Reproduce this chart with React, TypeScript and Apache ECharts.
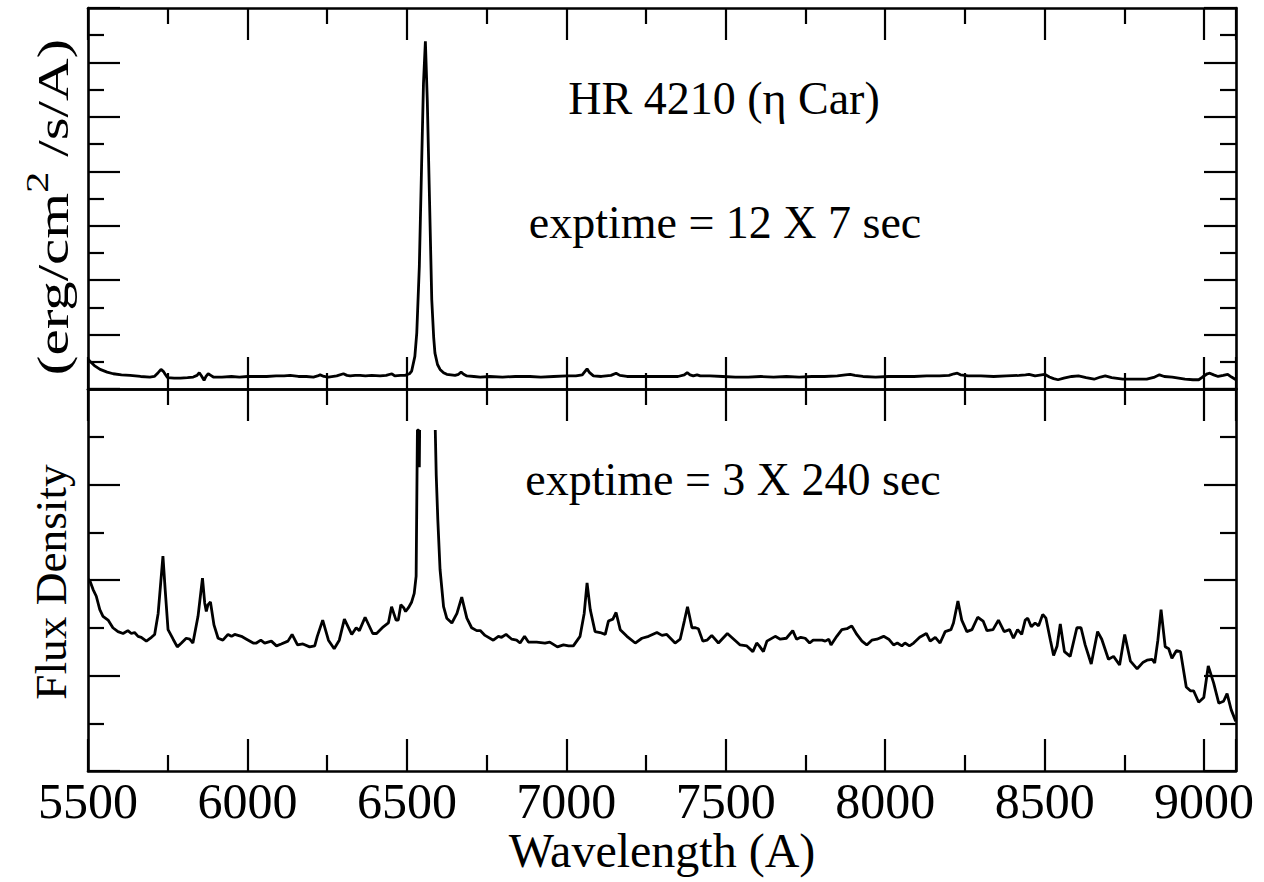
import React, { useEffect, useRef } from "react";
import * as echarts from "echarts";

// Wavelength range (Angstrom)
const xMin = 5500;
const xMax = 9100;
const xMajor = 500;

// Top panel: HR 4210 (eta Car), exptime = 12 X 7 sec
const topSpectrum: [number, number][] = [
  [5500, 0.55], [5506, 0.51], [5520, 0.43], [5538, 0.36], [5560, 0.31], [5579, 0.28],
  [5605, 0.26], [5632, 0.25], [5665, 0.23], [5694, 0.22], [5708, 0.23], [5720, 0.3],
  [5729, 0.36], [5737, 0.32], [5742, 0.27], [5749, 0.21], [5770, 0.2], [5790, 0.2],
  [5812, 0.21], [5830, 0.22], [5842, 0.25], [5849, 0.3], [5856, 0.24], [5864, 0.16],
  [5870, 0.23], [5877, 0.28], [5885, 0.25], [5893, 0.22], [5920, 0.22], [5950, 0.23],
  [5975, 0.22], [6000, 0.23], [6030, 0.23], [6060, 0.23], [6090, 0.24], [6115, 0.24],
  [6134, 0.25], [6160, 0.23], [6185, 0.23], [6207, 0.22], [6220, 0.24], [6228, 0.26],
  [6240, 0.23], [6254, 0.22], [6280, 0.24], [6301, 0.28], [6312, 0.25], [6322, 0.24],
  [6338, 0.25], [6353, 0.25], [6370, 0.24], [6390, 0.25], [6416, 0.24], [6435, 0.25],
  [6453, 0.28], [6462, 0.24], [6480, 0.25], [6494, 0.25], [6508, 0.28], [6515, 0.33],
  [6525, 0.6], [6531, 1.03], [6539, 2.25], [6546, 4.08], [6552, 5.61], [6558, 6.39],
  [6564, 5.3], [6571, 3.47], [6578, 1.64], [6584, 0.95], [6588, 0.66], [6596, 0.45],
  [6604, 0.36], [6615, 0.3], [6625, 0.27], [6651, 0.25], [6662, 0.27], [6670, 0.31],
  [6678, 0.27], [6688, 0.24], [6710, 0.23], [6730, 0.22], [6760, 0.23], [6800, 0.22],
  [6840, 0.23], [6886, 0.23], [6920, 0.22], [6960, 0.23], [7002, 0.24], [7030, 0.24],
  [7050, 0.26], [7058, 0.32], [7065, 0.37], [7073, 0.3], [7085, 0.24], [7110, 0.23],
  [7140, 0.25], [7156, 0.29], [7168, 0.25], [7190, 0.23], [7230, 0.23], [7270, 0.23],
  [7310, 0.23], [7350, 0.23], [7370, 0.26], [7379, 0.3], [7388, 0.26], [7398, 0.24],
  [7410, 0.26], [7420, 0.24], [7450, 0.24], [7490, 0.23], [7530, 0.22], [7570, 0.22],
  [7610, 0.23], [7650, 0.22], [7690, 0.23], [7730, 0.22], [7770, 0.23], [7810, 0.23],
  [7850, 0.24], [7875, 0.26], [7890, 0.27], [7905, 0.25], [7930, 0.23], [7970, 0.22],
  [8010, 0.23], [8050, 0.23], [8090, 0.23], [8130, 0.24], [8170, 0.24], [8200, 0.25],
  [8216, 0.28], [8226, 0.29], [8236, 0.26], [8260, 0.24], [8300, 0.24], [8340, 0.23],
  [8380, 0.24], [8420, 0.25], [8440, 0.26], [8451, 0.27], [8470, 0.24], [8490, 0.26],
  [8500, 0.27], [8515, 0.22], [8528, 0.19], [8542, 0.17], [8560, 0.2], [8585, 0.23],
  [8606, 0.24], [8630, 0.21], [8655, 0.18], [8675, 0.22], [8690, 0.24], [8710, 0.21],
  [8745, 0.18], [8780, 0.18], [8820, 0.18], [8845, 0.22], [8860, 0.26], [8875, 0.23],
  [8900, 0.22], [8920, 0.2], [8940, 0.18], [8965, 0.17], [8983, 0.17], [8995, 0.22],
  [9010, 0.28], [9018, 0.29], [9030, 0.26], [9044, 0.23], [9060, 0.25], [9074, 0.27],
  [9086, 0.22], [9100, 0.17],
];

// Bottom panel: exptime = 3 X 240 sec (H-alpha runs off scale)
const bottomSpectrum: [number, number | null][] = [
  [5500, 2.0], [5505, 2.0], [5516, 1.9], [5526, 1.83], [5537, 1.69], [5547, 1.62],
  [5563, 1.58], [5578, 1.5], [5594, 1.46], [5610, 1.44], [5625, 1.47], [5636, 1.44],
  [5646, 1.45], [5657, 1.41], [5667, 1.4], [5683, 1.36], [5699, 1.4], [5709, 1.43],
  [5720, 1.65], [5728, 1.97], [5735, 2.25], [5742, 1.9], [5751, 1.48], [5767, 1.38],
  [5780, 1.3], [5793, 1.34], [5808, 1.39], [5819, 1.38], [5829, 1.34], [5845, 1.62],
  [5859, 2.02], [5866, 1.76], [5871, 1.67], [5876, 1.74], [5884, 1.77], [5895, 1.53],
  [5908, 1.39], [5923, 1.37], [5939, 1.43], [5950, 1.41], [5960, 1.43], [5981, 1.41],
  [5997, 1.38], [6018, 1.34], [6028, 1.34], [6042, 1.37], [6054, 1.34], [6075, 1.36],
  [6091, 1.31], [6106, 1.33], [6127, 1.36], [6140, 1.43], [6157, 1.32], [6174, 1.33],
  [6195, 1.3], [6211, 1.31], [6219, 1.41], [6236, 1.58], [6254, 1.37], [6272, 1.28],
  [6288, 1.37], [6304, 1.59], [6327, 1.43], [6341, 1.5], [6351, 1.47], [6369, 1.61],
  [6393, 1.44], [6405, 1.44], [6426, 1.51], [6442, 1.55], [6452, 1.72], [6466, 1.58],
  [6473, 1.58], [6481, 1.74], [6490, 1.71], [6496, 1.67], [6505, 1.71], [6515, 1.77],
  [6523, 1.86], [6529, 2.04], [6531, 2.8], [6533, 3.57], [6537, 3.57], [6539, 3.18],
  [6540, 3.57], [6560, null], [6589, 3.57], [6592, 3.1], [6597, 2.63], [6604, 2.11],
  [6615, 1.72], [6625, 1.6], [6641, 1.55], [6657, 1.65], [6672, 1.82], [6688, 1.6],
  [6703, 1.5], [6719, 1.47], [6730, 1.47], [6745, 1.42], [6771, 1.37], [6787, 1.41],
  [6797, 1.4], [6811, 1.43], [6829, 1.38], [6844, 1.37], [6855, 1.34], [6869, 1.41],
  [6881, 1.35], [6907, 1.35], [6933, 1.34], [6948, 1.35], [6972, 1.3], [6991, 1.32],
  [7007, 1.31], [7022, 1.31], [7043, 1.41], [7056, 1.65], [7065, 1.97], [7075, 1.69],
  [7090, 1.46], [7106, 1.45], [7122, 1.43], [7132, 1.57], [7146, 1.59], [7156, 1.66],
  [7169, 1.48], [7190, 1.41], [7216, 1.34], [7237, 1.39], [7258, 1.41], [7284, 1.45],
  [7300, 1.42], [7315, 1.43], [7341, 1.34], [7357, 1.38], [7370, 1.57], [7380, 1.72],
  [7394, 1.5], [7405, 1.5], [7414, 1.49], [7428, 1.36], [7441, 1.37], [7456, 1.42],
  [7477, 1.34], [7505, 1.44], [7525, 1.38], [7545, 1.32], [7566, 1.31], [7585, 1.25],
  [7597, 1.34], [7605, 1.31], [7618, 1.25], [7629, 1.36], [7655, 1.41], [7671, 1.38],
  [7690, 1.39], [7710, 1.47], [7722, 1.38], [7735, 1.4], [7749, 1.39], [7763, 1.34],
  [7774, 1.37], [7786, 1.37], [7802, 1.37], [7812, 1.36], [7823, 1.38], [7830, 1.32],
  [7848, 1.41], [7864, 1.48], [7880, 1.49], [7895, 1.52], [7911, 1.43], [7927, 1.36],
  [7942, 1.32], [7958, 1.37], [7974, 1.38], [7995, 1.41], [8011, 1.38], [8026, 1.32],
  [8038, 1.34], [8052, 1.31], [8062, 1.34], [8076, 1.31], [8089, 1.34], [8108, 1.4],
  [8129, 1.44], [8141, 1.36], [8157, 1.4], [8172, 1.34], [8188, 1.46], [8206, 1.48],
  [8214, 1.55], [8228, 1.78], [8240, 1.58], [8256, 1.46], [8272, 1.48], [8290, 1.61],
  [8307, 1.57], [8319, 1.47], [8338, 1.48], [8355, 1.58], [8373, 1.46], [8390, 1.48],
  [8402, 1.39], [8415, 1.48], [8428, 1.43], [8439, 1.58], [8447, 1.6], [8458, 1.51],
  [8470, 1.55], [8481, 1.52], [8494, 1.64], [8504, 1.6], [8518, 1.37], [8528, 1.21],
  [8539, 1.31], [8549, 1.54], [8562, 1.25], [8580, 1.2], [8601, 1.5], [8614, 1.5],
  [8627, 1.32], [8646, 1.12], [8666, 1.46], [8679, 1.38], [8700, 1.17], [8716, 1.2],
  [8735, 1.11], [8751, 1.43], [8769, 1.15], [8790, 1.07], [8809, 1.14], [8821, 1.16],
  [8837, 1.17], [8845, 1.13], [8855, 1.37], [8865, 1.69], [8878, 1.3], [8889, 1.28],
  [8899, 1.18], [8913, 1.26], [8926, 1.25], [8944, 0.88], [8957, 0.84], [8967, 0.84],
  [8983, 0.72], [8999, 0.77], [9013, 1.1], [9030, 0.92], [9046, 0.71], [9061, 0.73],
  [9072, 0.81], [9085, 0.64], [9098, 0.53], [9100, 0.52],
];

// Y ranges (arbitrary flux units, one unit per major tick)
const topYMax = 7;
const bottomYMax = 4;

const panelTexts = ["HR 4210 (\u03b7 Car)", "exptime = 12 X 7 sec", "exptime = 3 X 240 sec"];
const yTitleTop = "{m|(erg/cm}{sup|2}{m| /s/A)}";
const yTitleBottom = "Flux Density";
const xTitle = "Wavelength (A)";

const FONT = '"Liberation Serif", "Times New Roman", Times, serif';

export default function App() {
  const ref = useRef<HTMLDivElement>(null);

  useEffect(() => {
    if (!ref.current) return;
    const chart = echarts.init(ref.current, undefined, { renderer: "svg" });

    const lineStyle = { color: "#000", width: 2.6 };
    const tickStyle = { color: "#000", width: 2.2 };

    const xAxisDef = (gridIndex: number, position: "top" | "bottom", withLabels: boolean) => ({
      type: "value",
      gridIndex,
      position,
      min: xMin,
      max: xMax,
      interval: xMajor,
      axisLine: { show: true, onZero: false, lineStyle },
      axisTick: { show: true, inside: true, length: 32, lineStyle: { ...tickStyle } },
      minorTick: { show: true, splitNumber: 2, length: 16, lineStyle: { ...tickStyle } },
      axisLabel: withLabels
        ? {
            show: true,
            showMaxLabel: false,
            formatter: (v: number) => String(v),
            margin: 5,
            color: "#000",
            fontFamily: FONT,
            fontSize: 50,
          }
        : { show: false },
      splitLine: { show: false },
      minorSplitLine: { show: false },
      ...(withLabels
        ? {
            name: xTitle,
            nameLocation: "middle",
            nameGap: 34,
            nameTextStyle: { color: "#000", fontFamily: FONT, fontSize: 48 },
          }
        : {}),
    });

    const yAxisDef = (gridIndex: number, position: "left" | "right", max: number) => ({
      type: "value",
      gridIndex,
      position,
      min: 0,
      max,
      interval: 1,
      axisLine: { show: true, onZero: false, lineStyle },
      axisTick: { show: true, inside: true, length: 32, lineStyle: { ...tickStyle } },
      minorTick: { show: true, splitNumber: 2, length: 16, lineStyle: { ...tickStyle } },
      axisLabel: { show: false },
      splitLine: { show: false },
      minorSplitLine: { show: false },
    });

    const centered = {
      fill: "#000",
      fontFamily: FONT,
      textAlign: "center",
      textVerticalAlign: "middle",
      align: "center",
      verticalAlign: "middle",
    };

    const option: any = {
      animation: false,
      backgroundColor: "#fff",
      grid: [
        { left: 88, top: 8, width: 1148, height: 381 },
        { left: 88, top: 389, width: 1148, height: 382 },
      ],
      xAxis: [
        xAxisDef(0, "bottom", false),
        xAxisDef(0, "top", false),
        xAxisDef(1, "bottom", true),
        xAxisDef(1, "top", false),
      ],
      yAxis: [
        yAxisDef(0, "left", topYMax),
        yAxisDef(0, "right", topYMax),
        yAxisDef(1, "left", bottomYMax),
        yAxisDef(1, "right", bottomYMax),
      ],
      series: [
        {
          type: "line",
          name: "12 X 7 sec",
          xAxisIndex: 0,
          yAxisIndex: 0,
          data: topSpectrum,
          symbol: "none",
          showSymbol: false,
          lineStyle: { color: "#000", width: 2.8 },
          clip: true,
        },
        {
          type: "line",
          name: "3 X 240 sec",
          xAxisIndex: 2,
          yAxisIndex: 2,
          data: bottomSpectrum,
          symbol: "none",
          showSymbol: false,
          connectNulls: false,
          lineStyle: { color: "#000", width: 2.8 },
          clip: true,
        },
      ],
      graphic: [
        { type: "text", x: 724, y: 98, style: { ...centered, text: panelTexts[0], fontSize: 46 } },
        { type: "text", x: 725, y: 222, style: { ...centered, text: panelTexts[1], fontSize: 46 } },
        { type: "text", x: 733, y: 479, style: { ...centered, text: panelTexts[2], fontSize: 46 } },
        {
          type: "text",
          x: 51,
          y: 582,
          rotation: Math.PI / 2,
          scaleX: 1.03,
          style: { ...centered, text: yTitleBottom, fontSize: 44 },
        },
        {
          type: "text",
          x: 47,
          y: 207,
          rotation: Math.PI / 2,
          scaleX: 1.34,
          style: {
            ...centered,
            text: yTitleTop,
            fontSize: 44,
            rich: {
              m: { fontFamily: FONT, fontSize: 44, lineHeight: 56, verticalAlign: "bottom", fill: "#000" },
              sup: {
                fontFamily: FONT,
                fontSize: 32,
                lineHeight: 32,
                verticalAlign: "bottom",
                padding: [0, 0, 22, 0],
                fill: "#000",
              },
            },
          },
        },
      ],
    };

    chart.setOption(option);
    return () => chart.dispose();
  }, []);

  return (
    <div
      ref={ref}
      style={{ position: "fixed", left: 0, top: 0, width: 1264, height: 882, background: "#fff" }}
    />
  );
}
